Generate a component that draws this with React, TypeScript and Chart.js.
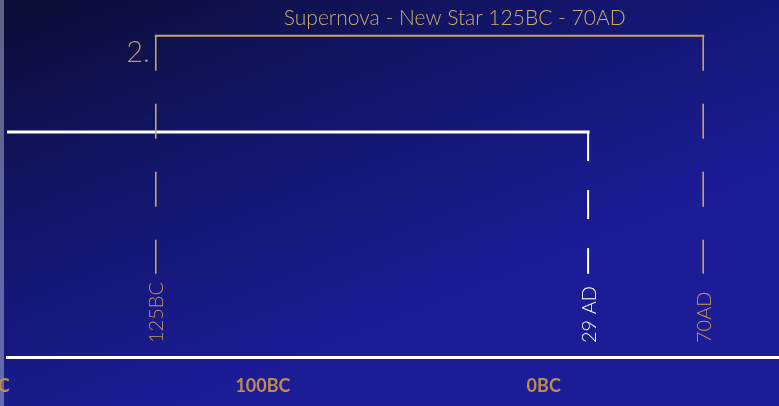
import React, { useEffect, useRef } from 'react';
import { Chart, registerables } from 'chart.js';

Chart.register(...registerables);

// ---- data ----
const chartTitle = 'Supernova - New Star 125BC - 70AD';
const periodNumber = '2.';
const tickYears = [-200, -100, 0];
const tickLabels = ['200BC', '100BC', '0BC'];
const supernovaYears = [-125, 70]; // start, end of the new star
const supernovaLabels = ['125BC', '70AD'];
const lifeLineYears = [-178, 29]; // white line running up to 29 AD
const lifeLineLabel = '29 AD';
const axisRange = [-178, 97];
const bracketLevel = 9;
const lifeLineLevel = 6.3;
const markerBaseLevel = 2.33;

const GOLD = 'rgb(200,162,102)';
const GOLD_TEXT = 'rgb(192,152,92)';
const AXIS_GOLD = 'rgb(190,140,78)';

const bgPlugin = {
  id: 'bgPlugin',
  beforeDraw(chart: any) {
    const { ctx, width, height } = chart;
    ctx.save();
    const g = ctx.createLinearGradient(0, 0, 160, height);
    g.addColorStop(0, '#0a0d33');
    g.addColorStop(0.45, '#121566');
    g.addColorStop(1, '#1b1c96');
    ctx.fillStyle = g;
    ctx.fillRect(0, 0, width, height);
    ctx.fillStyle = 'rgba(175,185,215,0.5)';
    ctx.fillRect(0, 0, 4, height);
    ctx.restore();
  },
};

const textPlugin = {
  id: 'textPlugin',
  afterDatasetsDraw(chart: any) {
    const { ctx, chartArea } = chart;
    const xs = chart.scales.x;
    const ys = chart.scales.y;
    const x0 = xs.getPixelForValue(supernovaYears[0]);
    const top = ys.getPixelForValue(bracketLevel);
    ctx.save();
    ctx.fillStyle = 'rgb(205,172,112)';
    ctx.font = '300 21px Lato';
    ctx.textAlign = 'left';
    ctx.textBaseline = 'alphabetic';
    ctx.fillText(chartTitle, x0 + 128, top - 11);
    ctx.font = '300 29px Lato';
    ctx.textAlign = 'right';
    ctx.fillStyle = GOLD_TEXT;
    ctx.fillText(periodNumber, x0 - 6, top + 26);
    const items = [
      { year: supernovaYears[0], text: supernovaLabels[0], color: GOLD_TEXT },
      { year: lifeLineYears[1], text: lifeLineLabel, color: '#ffffff' },
      { year: supernovaYears[1], text: supernovaLabels[1], color: GOLD_TEXT },
    ];
    ctx.font = '300 20px Lato';
    for (const it of items) {
      const px = xs.getPixelForValue(it.year);
      ctx.save();
      ctx.translate(px + 1, chartArea.bottom - 14);
      ctx.rotate(-Math.PI / 2);
      ctx.textAlign = 'left';
      ctx.textBaseline = 'middle';
      ctx.fillStyle = it.color;
      ctx.fillText(it.text, 0, 0);
      ctx.restore();
    }
    ctx.restore();
  },
};

const lineBase = { pointRadius: 0, tension: 0, borderCapStyle: 'butt' };

export default function App() {
  const ref = useRef<HTMLCanvasElement>(null);
  useEffect(() => {
    if (!ref.current) return;
    const chart = new Chart(ref.current, {
      type: 'line',
      data: {
        datasets: [
          {
            ...lineBase,
            label: 'Supernova span',
            data: [
              { x: supernovaYears[0], y: bracketLevel },
              { x: supernovaYears[1], y: bracketLevel },
            ],
            borderColor: GOLD,
            borderWidth: 2,
            borderCapStyle: 'square',
          } as any,
          ...supernovaYears.map((yr, i) => ({
            ...lineBase,
            label: supernovaLabels[i],
            data: [
              { x: yr, y: bracketLevel },
              { x: yr, y: markerBaseLevel },
            ],
            borderColor: GOLD,
            borderWidth: 1.6,
            borderDash: [35, 33],
          })) as any,
          {
            ...lineBase,
            label: 'Life line',
            data: [
              { x: lifeLineYears[0], y: lifeLineLevel },
              { x: lifeLineYears[1], y: lifeLineLevel },
            ],
            borderColor: '#ffffff',
            borderWidth: 3,
            borderCapStyle: 'square',
          } as any,
          {
            ...lineBase,
            label: lifeLineLabel,
            data: [
              { x: lifeLineYears[1], y: lifeLineLevel },
              { x: lifeLineYears[1], y: markerBaseLevel },
            ],
            borderColor: '#ffffff',
            borderWidth: 2,
            borderDash: [29, 29],
          } as any,
        ],
      },
      options: {
        animation: false,
        responsive: false,
        layout: { padding: { left: 7, right: 0, top: 0, bottom: 0 }, autoPadding: false } as any,
        plugins: { legend: { display: false }, tooltip: { enabled: false }, title: { display: false } },
        scales: {
          x: {
            type: 'linear',
            min: axisRange[0],
            max: axisRange[1],
            bounds: 'data',
            afterBuildTicks: (s: any) => {
              s.ticks = tickYears.map((v) => ({ value: v }));
            },
            afterFit: (s: any) => {
              s.height = 49;
              s.paddingLeft = 0;
              s.paddingRight = 0;
            },
            ticks: {
              autoSkip: false,
              maxRotation: 0,
              padding: 18,
              labelOffset: 37,
              color: AXIS_GOLD,
              font: { family: 'Lato', size: 18, weight: 'bold' },
              callback: (_v: any, i: number) => tickLabels[i],
            },
            grid: { display: false, drawTicks: false },
            border: { display: true, color: '#ffffff', width: 3 },
          } as any,
          y: { type: 'linear', display: false, min: 0, max: 10 },
        },
      },
      plugins: [bgPlugin, textPlugin],
    });
    return () => chart.destroy();
  }, []);
  return (
    <div style={{ position: 'fixed', left: 0, top: 0, width: 779, height: 406 }}>
      <canvas ref={ref} width={779} height={406} style={{ display: 'block' }} />
    </div>
  );
}
